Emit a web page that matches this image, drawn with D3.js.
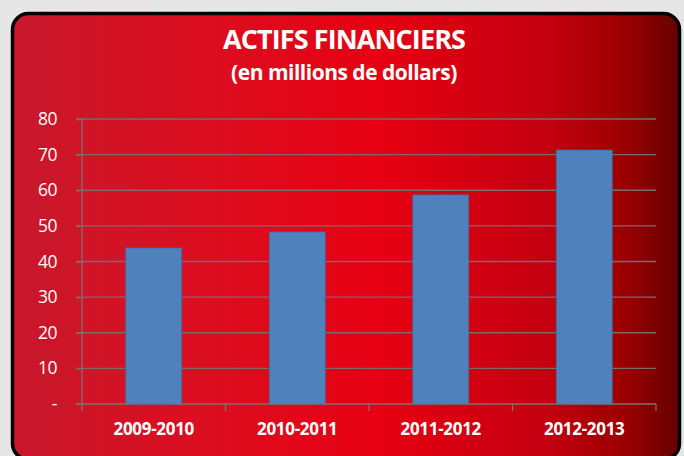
<!DOCTYPE html>
<html><head><meta charset="utf-8">
<script src="https://cdn.jsdelivr.net/npm/d3@7"></script>
<style>body{margin:0;background:#e6e6e6;}svg{display:block;}</style>
</head><body>
<script>
const categories = ["2009-2010","2010-2011","2011-2012","2012-2013"];
const values = [43.8, 48.3, 58.7, 71.3];
const yTicks = [0,10,20,30,40,50,60,70,80];
const title = "ACTIFS FINANCIERS";
const subtitle = "(en millions de dollars)";

const W=684,H=456;
const svg=d3.select("body").append("svg").attr("width",W).attr("height",H);
const defs=svg.append("defs");
const g=defs.append("linearGradient").attr("id","bg").attr("x1","0").attr("x2","1").attr("y1","0").attr("y2","0");
[[0,"#c8182c"],[0.3,"#dc0d1f"],[0.55,"#e60012"],[0.8,"#c40010"],[0.92,"#9a0000"],[1,"#650000"]].forEach(s=>g.append("stop").attr("offset",s[0]).attr("stop-color",s[1]));

svg.append("rect").attr("x",12.5).attr("y",13.5).attr("width",667).attr("height",446).attr("rx",16)
  .attr("fill","url(#bg)").attr("stroke","#000").attr("stroke-width",3.5);

const font="'Open Sans', 'Liberation Sans', sans-serif";
svg.append("text").attr("x",344).attr("y",49).attr("text-anchor","middle").attr("fill","#fff")
  .attr("font-family",font).attr("font-weight","bold").attr("font-size",27).attr("letter-spacing",-0.9).text(title);
svg.append("text").attr("x",344).attr("y",80).attr("text-anchor","middle").attr("fill","#fff")
  .attr("font-family",font).attr("font-weight","bold").attr("font-size",21).attr("letter-spacing",-0.5).text(subtitle);

const x=d3.scaleBand().domain(categories).range([82,656]).paddingInner(0.61).paddingOuter(0.305);
const y=d3.scaleLinear().domain([0,80]).range([404,119]);

// gridlines
svg.append("g").selectAll("line").data(yTicks.filter(d=>d>0)).join("line")
  .attr("x1",76).attr("x2",656).attr("y1",d=>y(d)).attr("y2",d=>y(d))
  .attr("stroke","#7d6a6a").attr("stroke-width",1.3);

// bars
svg.append("g").selectAll("rect").data(values).join("rect")
  .attr("x",(d,i)=>x(categories[i])).attr("width",x.bandwidth())
  .attr("y",d=>y(d)).attr("height",d=>y(0)-y(d))
  .attr("fill","#4f81bd").attr("stroke","#3f6a9c").attr("stroke-width",0.8);

// y axis
const ya=svg.append("g").attr("transform","translate(82,0)")
  .call(d3.axisLeft(y).tickValues(yTicks).tickSize(6).tickPadding(10).tickFormat(d=>d===0?"-":d));
ya.select(".domain").attr("stroke","#7d7070").attr("stroke-width",1.3).attr("d","M0,119V404");
ya.selectAll(".tick line").attr("stroke","#7d7070").attr("stroke-width",1.3);
ya.selectAll("text").attr("fill","#fff").attr("font-family",font).attr("font-size",17.5).attr("x",-25).attr("text-anchor","end").attr("letter-spacing",-0.5);

// x axis
const xTickPos=[82].concat(categories.map(c=>x(c)+x.bandwidth()/2+x.step()/2));
const xa=svg.append("g");
xa.append("line").attr("x1",76).attr("x2",656).attr("y1",404).attr("y2",404).attr("stroke","#7d7070").attr("stroke-width",1.5);
xa.selectAll("line.t").data(xTickPos).join("line").attr("class","t")
  .attr("x1",d=>d).attr("x2",d=>d).attr("y1",404).attr("y2",411).attr("stroke","#7d7070").attr("stroke-width",1.3);
xa.selectAll("text").data(categories).join("text")
  .attr("x",d=>x(d)+x.bandwidth()/2).attr("y",434.5).attr("text-anchor","middle").attr("fill","#fff")
  .attr("font-family",font).attr("font-weight","bold").attr("font-size",17).attr("letter-spacing",-0.3).text(d=>d);
</script>
</body></html>
